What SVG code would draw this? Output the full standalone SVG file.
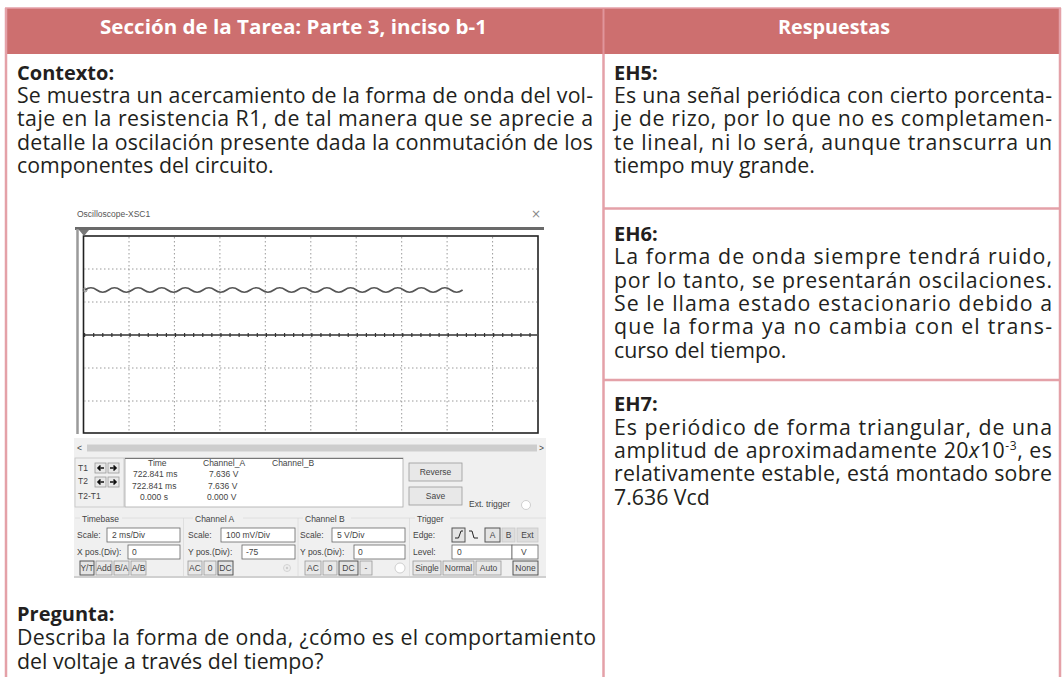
<svg xmlns="http://www.w3.org/2000/svg" width="1063" height="677" viewBox="0 0 1063 677">
<defs>
<style>
.hd{font-family:"Open Sans","Noto Sans",sans-serif;font-weight:bold;font-size:20px;fill:#ffffff}
.lb{font-family:"Open Sans","Noto Sans",sans-serif;font-weight:bold;font-size:20px;fill:#231f20}
.tx{font-family:"Open Sans","Noto Sans",sans-serif;font-size:21.3px;fill:#231f20}
.bd{stroke:#e4a1a8;stroke-width:2.5;fill:none}
.s{font-family:"Liberation Sans","DejaVu Sans",sans-serif;font-size:8.5px;fill:#444}
.sg{font-family:"Liberation Sans","DejaVu Sans",sans-serif;font-size:8.5px;fill:#555}
.box{fill:#ffffff;stroke:#666;stroke-width:0.8}
.btn{fill:#e8e8e8;stroke:#9a9a9a;stroke-width:0.8}
.btnd{fill:#dedede;stroke:#c8c8c8;stroke-width:0.8}
.sel{fill:#e4e4e4;stroke:#555;stroke-width:1}
.grid{stroke:#9a9a9a;stroke-width:1;stroke-dasharray:1.5 2.5;fill:none}
</style>
</defs>
<rect width="1063" height="677" fill="#ffffff"/>

<g id="table">
<rect x="5" y="8" width="1056" height="46" fill="#cd6f6f"/>
<line x1="5" y1="8" x2="1061" y2="8" stroke="#e4a1a8" stroke-width="1.5"/>
<line x1="603.5" y1="8" x2="603.5" y2="54" stroke="#e0959b" stroke-width="2"/>
<line x1="6" y1="8" x2="6" y2="677" class="bd"/>
<line x1="603.5" y1="54" x2="603.5" y2="677" class="bd"/>
<line x1="1060" y1="8" x2="1060" y2="677" class="bd"/>
<line x1="603.5" y1="208.5" x2="1060" y2="208.5" class="bd"/>
<line x1="603.5" y1="380" x2="1060" y2="380" class="bd"/>
</g>

<g id="header-left">
<text class="hd" x="100" y="34" textLength="387" lengthAdjust="spacingAndGlyphs">Sección de la Tarea: Parte 3, inciso b-1</text>
</g>
<g id="header-right">
<text class="hd" x="778" y="34" textLength="112" lengthAdjust="spacingAndGlyphs">Respuestas</text>
</g>

<g id="contexto">
<text class="lb" x="17" y="80">Contexto:</text>
<text class="tx" x="17" y="103" textLength="576" lengthAdjust="spacing">Se muestra un acercamiento de la forma de onda del vol-</text>
<text class="tx" x="17" y="126" textLength="576" lengthAdjust="spacing">taje en la resistencia R1, de tal manera que se aprecie a</text>
<text class="tx" x="17" y="149.5" textLength="576" lengthAdjust="spacing">detalle la oscilación presente dada la conmutación de los</text>
<text class="tx" x="17" y="173">componentes del circuito.</text>
</g>

<g id="oscilloscope">
<rect x="74" y="438" width="472" height="138" fill="#f0f0f0"/>
<line x1="74" y1="577" x2="546" y2="577" stroke="#d0d0d0" stroke-width="2"/>
<text class="sg" x="77" y="217" font-size="9.5" fill="#8a8a8a">Oscilloscope-XSC1</text>
<text x="531" y="218" font-family="DejaVu Sans,sans-serif" font-size="12" fill="#8a8a8a">×</text>
<line x1="75" y1="228.5" x2="544" y2="228.5" stroke="#6a6a6a" stroke-width="3"/>
<line x1="77.5" y1="229" x2="77.5" y2="434" stroke="#9a9a9a" stroke-width="2.5"/>
<rect x="83.5" y="236" width="454.5" height="197" fill="#ffffff" stroke="#222" stroke-width="1.6"/>
<polygon points="79,230 89,230 84,236" fill="#777"/>
<g class="grid">
<path d="M129 237V432M174.4 237V432M219.9 237V432M265.3 237V432M310.8 237V432M356.2 237V432M401.7 237V432M447.1 237V432M492.6 237V432"/>
<path d="M84 269H537M84 302H537M84 368H537M84 401H537"/>
</g>
<line x1="84" y1="335" x2="537" y2="335" stroke="#333" stroke-width="1.6"/>
<line x1="84" y1="335" x2="537" y2="335" stroke="#333" stroke-width="4" stroke-dasharray="1.2 7.89"/>
<circle cx="85" cy="290" r="2" fill="none" stroke="#777" stroke-width="0.8"/>
<path d="M85 290q5.9 -4.5 11.8 0t11.8 0t11.8 0t11.8 0t11.8 0t11.8 0t11.8 0t11.8 0t11.8 0t11.8 0t11.8 0t11.8 0t11.8 0t11.8 0t11.8 0t11.8 0t11.8 0t11.8 0t11.8 0t11.8 0t11.8 0t11.8 0t11.8 0t11.8 0t11.8 0t11.8 0t11.8 0t11.8 0t11.8 0t11.8 0t11.8 0t11.8 0" fill="none" stroke="#555" stroke-width="1.6"/>

<text class="s" x="77" y="451" font-size="10" fill="#666">&lt;</text>
<rect x="87" y="444.5" width="450" height="7" fill="#cdcdcd"/>
<text class="s" x="539" y="451" font-size="10" fill="#666">&gt;</text>

<rect x="75" y="458" width="49" height="49" fill="none" stroke="#c4c4c4" stroke-width="0.8"/>
<text class="s" x="78" y="471">T1</text>
<text class="s" x="78" y="484">T2</text>
<text class="s" x="78" y="499">T2-T1</text>
<rect x="95" y="463" width="11" height="10" class="btn"/>
<rect x="108" y="463" width="11" height="10" class="btn"/>
<rect x="95" y="477" width="11" height="10" class="btn"/>
<rect x="108" y="477" width="11" height="10" class="btn"/>
<path d="M104 468H98M100.5 465.5L98 468L100.5 470.5M110 468H116M113.5 465.5L116 468L113.5 470.5M104 482H98M100.5 479.5L98 482L100.5 484.5M110 482H116M113.5 479.5L116 482L113.5 484.5" stroke="#111" stroke-width="1.6" fill="none"/>

<rect x="125" y="458" width="278" height="49" fill="#ffffff" stroke="#aaa" stroke-width="0.8"/>
<line x1="125" y1="458.5" x2="403" y2="458.5" stroke="#777" stroke-width="1.2"/>
<text class="s" x="148" y="466">Time</text>
<text class="s" x="203" y="466">Channel_A</text>
<text class="s" x="272" y="466">Channel_B</text>
<text class="s" x="133" y="477" font-size="7.5">722.841 ms</text>
<text class="s" x="209" y="477" font-size="7.5">7.636 V</text>
<text class="s" x="132" y="489">722.841 ms</text>
<text class="s" x="208" y="489">7.636 V</text>
<text class="s" x="140" y="500">0.000 s</text>
<text class="s" x="207" y="500">0.000 V</text>

<rect x="409" y="463" width="53" height="18" class="btn"/>
<text class="s" x="435.5" y="475" text-anchor="middle">Reverse</text>
<rect x="409" y="487" width="53" height="18" class="btn"/>
<text class="s" x="435.5" y="499" text-anchor="middle">Save</text>
<text class="s" x="469" y="507">Ext. trigger</text>
<circle cx="526" cy="505" r="4.5" fill="#ffffff" stroke="#c4c4c4" stroke-width="0.8"/>

<path d="M75 518H546M183.5 518V576M298 518V576M409.5 518V576" stroke="#dadada" stroke-width="0.8" fill="none"/>
<rect x="80" y="515" width="42" height="7" fill="#f0f0f0"/>
<rect x="193" y="515" width="50" height="7" fill="#f0f0f0"/>
<rect x="303" y="515" width="48" height="7" fill="#f0f0f0"/>
<rect x="415" y="515" width="35" height="7" fill="#f0f0f0"/>
<text class="s" x="82" y="522">Timebase</text>
<text class="s" x="195" y="522">Channel A</text>
<text class="s" x="305" y="522">Channel B</text>
<text class="s" x="417" y="522">Trigger</text>

<text class="s" x="77" y="538">Scale:</text>
<rect x="107" y="528" width="73" height="14" class="box"/>
<text class="s" x="112" y="538">2 ms/Div</text>
<text class="s" x="188" y="538">Scale:</text>
<rect x="221" y="528" width="74" height="14" class="box"/>
<text class="s" x="226" y="538">100 mV/Div</text>
<text class="s" x="300" y="538">Scale:</text>
<rect x="332" y="528" width="73" height="14" class="box"/>
<text class="s" x="337" y="538">5 V/Div</text>
<text class="s" x="413" y="538">Edge:</text>
<rect x="452" y="528" width="13" height="14" class="sel"/>
<path d="M455 538H458.5L461 531H463" stroke="#222" stroke-width="1" fill="none"/>
<path d="M469 531H472L474 538H478" stroke="#222" stroke-width="1" fill="none"/>
<rect x="485" y="528" width="15" height="14" class="sel"/>
<text class="s" x="492.5" y="538" text-anchor="middle">A</text>
<rect x="502" y="528" width="13" height="14" class="btnd"/>
<text class="s" x="508.5" y="538" text-anchor="middle" fill="#aaa">B</text>
<rect x="517" y="528" width="21" height="14" class="btnd"/>
<text class="s" x="527.5" y="538" text-anchor="middle" fill="#aaa">Ext</text>

<text class="s" x="77" y="555">X pos.(Div):</text>
<rect x="128" y="545" width="52" height="14" class="box"/>
<text class="s" x="132" y="555">0</text>
<text class="s" x="188" y="555">Y pos.(Div):</text>
<rect x="242" y="545" width="53" height="14" class="box"/>
<text class="s" x="246" y="555">-75</text>
<text class="s" x="300" y="555">Y pos.(Div):</text>
<rect x="354" y="545" width="51" height="14" class="box"/>
<text class="s" x="358" y="555">0</text>
<text class="s" x="413" y="555">Level:</text>
<rect x="452" y="545" width="60" height="14" class="box"/>
<text class="s" x="457" y="555">0</text>
<rect x="512" y="545" width="26" height="14" class="box"/>
<text class="s" x="521" y="555">V</text>

<rect x="80" y="561" width="14" height="14" class="sel"/>
<text class="s" x="87" y="571" text-anchor="middle">Y/T</text>
<rect x="96" y="561" width="16" height="14" class="btn"/>
<text class="s" x="104" y="571" text-anchor="middle">Add</text>
<rect x="114" y="561" width="15" height="14" class="btn"/>
<text class="s" x="121.5" y="571" text-anchor="middle">B/A</text>
<rect x="131" y="561" width="15" height="14" class="btn"/>
<text class="s" x="138.5" y="571" text-anchor="middle">A/B</text>
<rect x="188" y="561" width="14" height="14" class="btn"/>
<text class="s" x="195" y="571" text-anchor="middle">AC</text>
<rect x="204" y="561" width="12" height="14" class="btn"/>
<text class="s" x="210" y="571" text-anchor="middle">0</text>
<rect x="218" y="561" width="15" height="14" class="sel"/>
<text class="s" x="225.5" y="571" text-anchor="middle">DC</text>
<circle cx="287" cy="568" r="3.5" fill="#eee" stroke="#ccc" stroke-width="0.8"/>
<circle cx="287" cy="568" r="1.2" fill="#ccc"/>
<rect x="305" y="561" width="16" height="14" class="btn"/>
<text class="s" x="313" y="571" text-anchor="middle">AC</text>
<rect x="323" y="561" width="14" height="14" class="btn"/>
<text class="s" x="330" y="571" text-anchor="middle">0</text>
<rect x="339" y="561" width="19" height="14" class="sel"/>
<text class="s" x="348.5" y="571" text-anchor="middle">DC</text>
<rect x="360" y="561" width="12" height="14" class="btn"/>
<text class="s" x="366" y="571" text-anchor="middle">-</text>
<circle cx="400" cy="568" r="5" fill="#ffffff" stroke="#c4c4c4" stroke-width="0.8"/>
<rect x="413" y="561" width="28" height="14" class="btn"/>
<text class="s" x="427" y="571" text-anchor="middle">Single</text>
<rect x="443" y="561" width="31" height="14" class="btn"/>
<text class="s" x="458.5" y="571" text-anchor="middle">Normal</text>
<rect x="476" y="561" width="25" height="14" class="btn"/>
<text class="s" x="488.5" y="571" text-anchor="middle">Auto</text>
<rect x="513" y="561" width="25" height="14" class="sel"/>
<text class="s" x="525.5" y="571" text-anchor="middle">None</text>
</g>

<g id="pregunta">
<text class="lb" x="17" y="621">Pregunta:</text>
<text class="tx" x="17" y="645" textLength="579" lengthAdjust="spacing">Describa la forma de onda, ¿cómo es el comportamiento</text>
<text class="tx" x="17" y="669">del voltaje a través del tiempo?</text>
</g>

<g id="eh5">
<text class="lb" x="614" y="80">EH5:</text>
<text class="tx" x="614" y="103" textLength="438" lengthAdjust="spacing">Es una señal periódica con cierto porcenta-</text>
<text class="tx" x="614" y="126" textLength="438" lengthAdjust="spacing">je de rizo, por lo que no es completamen-</text>
<text class="tx" x="614" y="149.5" textLength="438" lengthAdjust="spacing">te lineal, ni lo será, aunque transcurra un</text>
<text class="tx" x="614" y="173">tiempo muy grande.</text>
</g>

<g id="eh6">
<text class="lb" x="614" y="241">EH6:</text>
<text class="tx" x="614" y="264" textLength="438" lengthAdjust="spacing">La forma de onda siempre tendrá ruido,</text>
<text class="tx" x="614" y="288" textLength="438" lengthAdjust="spacing">por lo tanto, se presentarán oscilaciones.</text>
<text class="tx" x="614" y="311" textLength="438" lengthAdjust="spacing">Se le llama estado estacionario debido a</text>
<text class="tx" x="614" y="334" textLength="438" lengthAdjust="spacing">que la forma ya no cambia con el trans-</text>
<text class="tx" x="614" y="358">curso del tiempo.</text>
</g>

<g id="eh7">
<text class="lb" x="614" y="411">EH7:</text>
<text class="tx" x="614" y="435" textLength="438" lengthAdjust="spacing">Es periódico de forma triangular, de una</text>
<text class="tx" x="614" y="458" textLength="438" lengthAdjust="spacing">amplitud de aproximadamente 20<tspan font-style="italic">x</tspan>10<tspan dy="-8" font-size="12">-3</tspan><tspan dy="8">, es</tspan></text>
<text class="tx" x="614" y="481" textLength="438" lengthAdjust="spacing">relativamente estable, está montado sobre</text>
<text class="tx" x="614" y="505">7.636 Vcd</text>
</g>
</svg>
